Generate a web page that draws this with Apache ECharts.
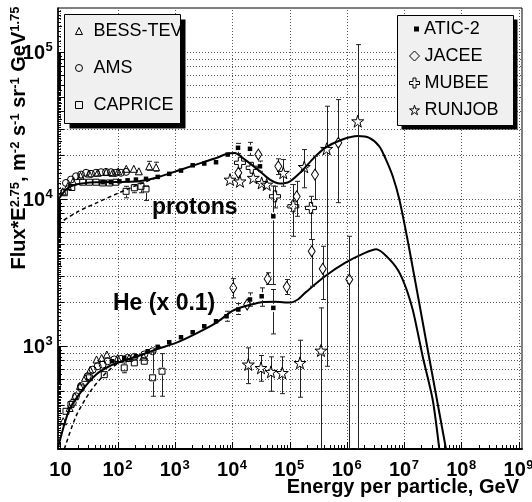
<!DOCTYPE html>
<html>
<head>
<meta charset="utf-8">
<title>Proton and helium spectra</title>
<script src="https://cdn.jsdelivr.net/npm/echarts@6/dist/echarts.min.js"></script>
<style>
html, body { margin: 0; padding: 0; background: #fff; }
#chart { width: 532px; height: 502px; }
</style>
</head>
<body>
<div id="chart"></div>
<script>
// axis extents (GeV per particle, flux*E^2.75)
const xRange = [9.08, 1.138e9];
const yRange = [200, 2e5];
const xTickExps = [1, 2, 3, 4, 5, 6, 7, 8, 9];
const yTickExps = [3, 4, 5];

// model curves
const pModelE = [9.1, 12.6, 18.6, 41.7, 123, 234, 468, 1259, 3162, 5250, 8000, 11000, 16600, 28180, 44670, 67600, 1.0e5, 1.622e5, 2.63e5, 4.169e5, 8.128e5, 1.549e6, 2.46e6, 3.68e6, 4.81e6, 6.31e6, 8.22e6, 1.23e7, 2.51e7, 5.37e7];
const pModelF = [9900, 11640, 12590, 13060, 13120, 13240, 14000, 15890, 17900, 19100, 20300, 20600, 18620, 15850, 13650, 12790, 13180, 15490, 19050, 22390, 25410, 26920, 26180, 22910, 18620, 14350, 10000, 4571, 1000, 200];
const heModelE = [9.1, 14.3, 24.5, 41.7, 71.3, 122, 273, 466, 1040, 2323, 5200, 10000, 16600, 32360, 55590, 101600, 141300, 186200, 415000, 926800, 2.07e6, 3.236e6, 6.31e6, 9.42e6, 1.406e7, 2.104e7, 3.141e7, 4.1e7];
const heModelF = [205, 371, 507, 641, 731, 791, 879, 951, 1054, 1219, 1442, 1738, 1871, 1995, 2009, 1982, 2089, 2307, 2992, 3690, 4315, 4571, 3690, 2844, 1778, 851, 434, 200];
const pDashE = [9.1, 19.95, 39.8, 100, 199.5, 398, 562];
const pDashF = [6800, 8222, 9333, 10965, 12300, 13650, 14330];
const heDashE = [11.7, 18.7, 32, 54.7, 93.3, 182, 316, 447];
const heDashF = [200, 334, 482, 625, 750, 841, 902, 944];

// measurements: [E, flux] or [E, flux, low, high]
const bessP = [[11.0,11320],[13.5,12300],[16.6,13180],[22.4,14450],[31.6,14960],[44.7,15140],[63.1,15310],[81.3,15140],[102,15490],[141,16110],[191,16110],[234,15490],[355,16750,15740,18110],[468,16520,15520,17860]];
const amsP = [[12.5,12910],[15.3,13610],[18.7,14320],[22.9,14720],[28.0,15140],[34.2,14890],[41.8,15140],[51.2,15280],[62.5,15350],[76.4,15280],[93.3,15140],[114,15140],[140,15350]];
const capriceP = [[11.7,11070],[15.8,12020],[24.5,13060],[32,13060],[41.8,13060],[54.7,12910],[71.6,12910],[93.3,13060],[140,11320,10230,12250],[195,11970,11070,12590],[255,12250,11070,13060],[312,11750,9800,12250]];
const aticP = [[54.7,13060],[76.4,13060],[107,13240],[149,13460],[208,13610],[312,13770],[499,14190],[794,14890],[1274,15670],[2037,17020],[3243,17500],[5200,17860],[8318,20140],[12590,22390,20460,23990],[20370,22030,19860,24380],[30410,16750,15490,18200],[52000,7656,2630,12300]];
const jaceeP = [[12740,15140],[28440,20140],[63530,16750,14720,18840],[133000,10470,7656,13240],[277300,14720,9954,19630],[707900,24210,9484,47640]];
const mubeeP = [[13610,17700],[21830,16370],[55590,10470,8730,12250],[116100,8954,5598,12590],[236000,8730,5321,10470]];
const runjobP = [[9120,13610],[13610,13240],[23230,14000],[32580,12910],[39810,12590],[77620,15140,12250,18620],[180300,16600,11970,21780],[443600,22030,731,42950],[1.545e6,33960,200,112700]];

const bessHe = [[11.2,309],[14.5,380],[17.8,457],[21.9,537],[26.9,610],[33.1,692],[42.7,813],[52.5,832],[64.6,879],[100,832],[158,832],[282,851]];
const amsHe = [[16.4,412],[18.7,457],[22.9,535],[29.9,625],[36.6,693],[44.7,731],[54.7,750],[66.8,791],[87.1,813],[114,820],[149,834],[195,847],[291,879],[407,925]];
const capriceHe = [[12.5,361],[15.3,401],[22.9,521],[32,610],[58.3,641],[130,713,660,770],[195,771],[291,791],[407,610,457,912],[593,676,457,891]];
const aticHe = [[79.4,791],[130,834],[208,855],[333,925],[499,991],[794,1064],[1274,1151],[2037,1245],[3243,1368],[5200,1479],[7943,1600,1479,1730],[12740,1778,1644,1954],[20370,2080,1871,2307],[32580,2188,1871,2495],[52000,1824,1213,2432]];
const jaceeHe = [[10400,2495,2133,2884],[18200,1923],[41400,2871,2630,3162],[89130,2535,2249,2844],[243200,4426,2559,5321],[378400,3365,2080,4786],[1.102e6,2844,200,5598]];
const runjobHe = [[19050,752,557,975],[31700,713,578,865],[47320,670,494,847],[74470,659,476,847],[151700,771,450,1099],[353200,935,200,1824]];

const L = Math.log10;
const FONT = '"Liberation Sans", Arial, Helvetica, sans-serif';
const xLo = L(xRange[0]), xHi = L(xRange[1]);
const yLo = L(yRange[0]), yHi = L(yRange[1]);

const CROSS = 'path://M35,0L65,0L65,35L100,35L100,65L65,65L65,100L35,100L35,65L0,65L0,35L35,35Z';
const STAR = 'path://M50,0L61,35L98,35L68,57L79,91L50,70L21,91L32,57L2,35L39,35Z';
const HOLLOW = 'rgba(0,0,0,0)';
const markers = {
    'BESS-TEV': { symbol: 'triangle', size: 7 },
    'AMS': { symbol: 'circle', size: 7 },
    'CAPRICE': { symbol: 'rect', size: 6 },
    'ATIC-2': { symbol: 'rect', size: 4.5, fill: '#000' },
    'JACEE': { symbol: 'diamond', size: [7, 11] },
    'MUBEE': { symbol: CROSS, size: 11 },
    'RUNJOB': { symbol: STAR, size: 12 }
};

function toLog(arr) { return arr.map(d => [L(d[0]), L(d[1])]); }
function curve(E, F) { return E.map((e, i) => [L(e), L(F[i])]); }

function scatter(name, arr) {
    const m = markers[name];
    return {
        type: 'scatter', name: name, data: toLog(arr), z: 6, silent: true,
        symbol: m.symbol, symbolSize: m.size,
        itemStyle: { color: m.fill || HOLLOW, borderColor: '#000', borderWidth: m.fill ? 0 : 1, opacity: 1 }
    };
}

function errSeries(arr) {
    const data = arr.filter(d => d.length === 4)
        .map(d => [L(d[0]), L(d[1]), L(Math.max(d[2], yRange[0])), L(Math.min(d[3], yRange[1]))]);
    return {
        type: 'custom', data: data, clip: true, silent: true, z: 5,
        encode: { x: 0, y: 1 },
        renderItem: (params, api) => {
            const x = api.value(0);
            const c = api.coord([x, api.value(1)]);
            const a = api.coord([x, api.value(2)]);
            const b = api.coord([x, api.value(3)]);
            const px = Math.round(c[0]) + 0.5;
            const st = { stroke: '#222', lineWidth: 1 };
            const gap = 4;
            const kids = [];
            if (a[1] > c[1] + gap) kids.push({ type: 'line', shape: { x1: px, y1: c[1] + gap, x2: px, y2: a[1] }, style: st });
            if (b[1] < c[1] - gap) kids.push({ type: 'line', shape: { x1: px, y1: c[1] - gap, x2: px, y2: b[1] }, style: st });
            kids.push({ type: 'line', shape: { x1: px - 2.5, y1: a[1], x2: px + 2.5, y2: a[1] }, style: st });
            kids.push({ type: 'line', shape: { x1: px - 2.5, y1: b[1], x2: px + 2.5, y2: b[1] }, style: st });
            return { type: 'group', children: kids };
        }
    };
}

function line(data, dashed, width) {
    return {
        type: 'line', data: data, showSymbol: false, silent: true, z: 4, smooth: 0.25,
        lineStyle: { color: '#000', width: width, type: dashed ? [4, 3] : 'solid' }
    };
}

// grid values: log minor steps on y, decades on x
const yGridVals = [];
for (let n = 2; n <= 5; n++) {
    for (let k = 1; k <= 9; k++) {
        const v = L(k * Math.pow(10, n));
        if (v > yLo + 1e-6 && v < yHi - 1e-6) yGridVals.push([xLo, v]);
    }
}
const xGridVals = xTickExps.filter(e => e > xLo && e < xHi).map(e => [e, yLo]);
const xTickVals = [];
for (let n = 0; n <= 9; n++) {
    for (let k = 1; k <= 9; k++) {
        const v = L(k * Math.pow(10, n));
        if (v > xLo && v < xHi) xTickVals.push([v, k]);
    }
}
const yTickVals = [];
for (let n = 2; n <= 5; n++) {
    for (let k = 10; k < 100; k++) {
        const v = L(k / 10 * Math.pow(10, n));
        if (v > yLo && v < yHi) yTickVals.push([xLo, v, k]);
    }
}

const dotted = { stroke: '#555', lineWidth: 1, lineDash: [1, 2] };

const decoSeries = [
    {
        type: 'custom', silent: true, z: 1, data: yGridVals,
        renderItem: (p, api) => {
            const a = api.coord([xLo, api.value(1)]);
            const b = api.coord([xHi, api.value(1)]);
            const y = Math.round(a[1]) + 0.5;
            return { type: 'line', shape: { x1: a[0], y1: y, x2: b[0], y2: y }, style: dotted };
        }
    },
    {
        type: 'custom', silent: true, z: 1, data: xGridVals,
        renderItem: (p, api) => {
            const a = api.coord([api.value(0), yLo]);
            const b = api.coord([api.value(0), yHi]);
            const x = Math.round(a[0]) + 0.5;
            return { type: 'line', shape: { x1: x, y1: a[1], x2: x, y2: b[1] }, style: dotted };
        }
    },
    {
        type: 'custom', silent: true, z: 3, data: xTickVals,
        renderItem: (p, api) => {
            const a = api.coord([api.value(0), yLo]);
            const x = Math.round(a[0]) + 0.5;
            const len = api.value(1) === 1 ? 7 : 4;
            return { type: 'line', shape: { x1: x, y1: a[1], x2: x, y2: a[1] - len }, style: { stroke: '#000', lineWidth: 1 } };
        }
    },
    {
        type: 'custom', silent: true, z: 3, data: yTickVals,
        renderItem: (p, api) => {
            const a = api.coord([xLo, api.value(1)]);
            const k = api.value(2);
            const len = k === 10 ? 9 : (k % 10 === 0 ? 6 : (k % 5 === 0 ? 4 : 3));
            const y = Math.round(a[1]) + 0.5;
            return { type: 'line', shape: { x1: a[0], y1: y, x2: a[0] + len, y2: y }, style: { stroke: '#000', lineWidth: 1 } };
        }
    },
    {
        type: 'custom', silent: true, z: 3, clip: false,
        data: xTickExps.map(e => [e, yLo]),
        renderItem: (p, api) => {
            const e = api.value(0);
            const a = api.coord([e, yLo]);
            const main = { fill: '#000', font: 'bold 20px ' + FONT, verticalAlign: 'middle', textVerticalAlign: 'middle' };
            if (e === 1) {
                return { type: 'text', style: Object.assign({ text: '10', x: a[0], y: a[1] + 21, align: 'center', textAlign: 'center' }, main) };
            }
            return {
                type: 'group', children: [
                    { type: 'text', style: Object.assign({ text: '10', x: a[0] + 7, y: a[1] + 21, align: 'right', textAlign: 'right' }, main) },
                    { type: 'text', style: { text: String(e), x: a[0] + 7.5, y: a[1] + 16, align: 'left', textAlign: 'left', verticalAlign: 'middle', textVerticalAlign: 'middle', fill: '#000', font: 'bold 13px ' + FONT } }
                ]
            };
        }
    },
    {
        type: 'custom', silent: true, z: 3, clip: false,
        data: yTickExps.map(e => [xLo, e]),
        renderItem: (p, api) => {
            const e = api.value(1);
            const a = api.coord([xLo, e]);
            return {
                type: 'group', children: [
                    { type: 'text', style: { text: '10', x: 45, y: a[1] + 1, align: 'right', textAlign: 'right', verticalAlign: 'middle', textVerticalAlign: 'middle', fill: '#000', font: 'bold 20px ' + FONT } },
                    { type: 'text', style: { text: String(e), x: 45.5, y: a[1] - 5, align: 'left', textAlign: 'left', verticalAlign: 'middle', textVerticalAlign: 'middle', fill: '#000', font: 'bold 13px ' + FONT } }
                ]
            };
        }
    }
];

function legendItem(name, filled) {
    return { name: name, itemStyle: { color: filled ? '#000' : HOLLOW, borderColor: '#000', borderWidth: filled ? 0 : 1 } };
}
const legendText = { fontSize: 18, fontFamily: FONT, color: '#000', lineHeight: 18 };

const chart = echarts.init(document.getElementById('chart'), null, { renderer: 'canvas' });

const option = {
    animation: false,
    backgroundColor: '#fff',
    grid: {
        left: 58, right: 10, top: 8, bottom: 53,
        show: true, borderColor: '#000', borderWidth: 1, backgroundColor: 'transparent',
        containLabel: false, outerBoundsMode: 'none'
    },
    xAxis: {
        type: 'value', min: xLo, max: xHi,
        axisLine: { show: true, onZero: false, lineStyle: { color: '#000', width: 2 } },
        axisTick: { show: false }, axisLabel: { show: false }, splitLine: { show: false }
    },
    yAxis: {
        type: 'value', min: yLo, max: yHi,
        axisLine: { show: true, onZero: false, lineStyle: { color: '#000', width: 1.5 } },
        axisTick: { show: false }, axisLabel: { show: false }, splitLine: { show: false }
    },
    legend: [
        {
            data: [legendItem('BESS-TEV'), legendItem('AMS'), legendItem('CAPRICE')],
            orient: 'vertical', left: 75, top: 22,
            itemWidth: 7, itemHeight: 7, itemGap: 19, itemTextGap: 5, padding: 0,
            selectedMode: false, z: 60,
            textStyle: Object.assign({ padding: [0, 0, 0, 6] }, legendText)
        },
        {
            data: [legendItem('ATIC-2', true)],
            orient: 'vertical', left: 414, top: 20,
            itemWidth: 5, itemHeight: 5, itemTextGap: 16, padding: 0,
            selectedMode: false, z: 60, textStyle: legendText
        },
        {
            data: [legendItem('JACEE'), legendItem('MUBEE'), legendItem('RUNJOB')],
            orient: 'vertical', left: 409, top: 47,
            itemWidth: 10, itemHeight: 10, itemGap: 9, itemTextGap: 15, padding: 0,
            selectedMode: false, z: 60, textStyle: legendText
        }
    ],
    graphic: [
        { type: 'rect', z: 50, shape: { x: 69.5, y: 19.5, width: 116, height: 109 }, style: { fill: '#000' } },
        { type: 'rect', z: 51, shape: { x: 64.5, y: 14.5, width: 116, height: 109 }, style: { fill: '#f0f0f0', stroke: '#000', lineWidth: 1 } },
        { type: 'rect', z: 50, shape: { x: 401.5, y: 19.5, width: 116, height: 110 }, style: { fill: '#000' } },
        { type: 'rect', z: 51, shape: { x: 397.5, y: 15.5, width: 116, height: 110 }, style: { fill: '#f0f0f0', stroke: '#000', lineWidth: 1 } },
        { type: 'text', z: 52, style: { text: 'protons', x: 152, y: 208, font: 'bold 23px ' + FONT, fill: '#000', align: 'left', textAlign: 'left', verticalAlign: 'middle', textVerticalAlign: 'middle' } },
        { type: 'text', z: 52, style: { text: 'He (x 0.1)', x: 113, y: 304, font: 'bold 23px ' + FONT, fill: '#000', align: 'left', textAlign: 'left', verticalAlign: 'middle', textVerticalAlign: 'middle' } },
        { type: 'text', z: 52, style: { text: 'Energy per particle, GeV', x: 519, y: 487, font: 'bold 20px ' + FONT, fill: '#000', align: 'right', textAlign: 'right', verticalAlign: 'middle', textVerticalAlign: 'middle' } },
        {
            type: 'text', z: 52, x: 19.4, y: 138, rotation: Math.PI / 2,
            style: {
                text: '{m|Flux*E}{s|2.75}{m|, m}{s|-2}{m| s}{s|-1}{m| sr}{s|-1}{m| GeV}{s|1.75}',
                align: 'center', textAlign: 'center', verticalAlign: 'middle', textVerticalAlign: 'middle',
                fill: '#000',
                rich: {
                    m: { fontFamily: FONT, fontWeight: 'bold', fontSize: 20, lineHeight: 20, verticalAlign: 'bottom', fill: '#000' },
                    s: { fontFamily: FONT, fontWeight: 'bold', fontSize: 13, lineHeight: 13, verticalAlign: 'top', padding: [0, 0, 21, 0], fill: '#000' }
                }
            }
        }
    ],
    series: [
        ...decoSeries,
        line(curve(pModelE, pModelF), false, 2),
        line(curve(heModelE, heModelF), false, 2),
        line(curve(pDashE, pDashF), true, 1.5),
        line(curve(heDashE, heDashF), true, 1.5),
        errSeries(bessP), errSeries(capriceP), errSeries(aticP), errSeries(jaceeP), errSeries(mubeeP), errSeries(runjobP),
        errSeries(capriceHe), errSeries(aticHe), errSeries(jaceeHe), errSeries(runjobHe),
        scatter('BESS-TEV', bessP), scatter('AMS', amsP), scatter('CAPRICE', capriceP),
        scatter('ATIC-2', aticP), scatter('JACEE', jaceeP), scatter('MUBEE', mubeeP), scatter('RUNJOB', runjobP),
        scatter('BESS-TEV', bessHe), scatter('AMS', amsHe), scatter('CAPRICE', capriceHe),
        scatter('ATIC-2', aticHe), scatter('JACEE', jaceeHe), scatter('RUNJOB', runjobHe)
    ]
};

chart.setOption(option);
</script>
</body>
</html>
